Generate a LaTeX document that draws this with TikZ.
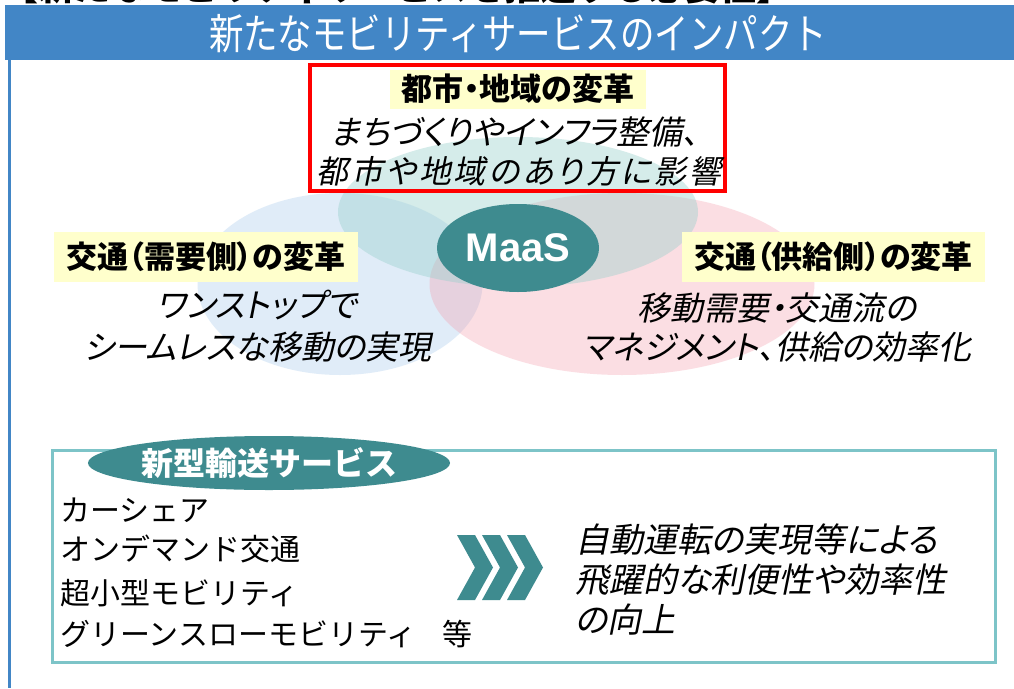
\documentclass[tikz,border=0pt]{standalone}
\usepackage{fontspec}
\usetikzlibrary{shapes.geometric}
\newfontfamily\jp{Noto Sans CJK JP}
\newfontfamily\jpp{Noto Sans CJK JP}[RawFeature=+palt]
\newfontfamily\jpit{Noto Sans CJK JP}[FakeSlant=0.2, RawFeature=+palt]
\newfontfamily\jpitwide{Noto Sans CJK JP}[FakeSlant=0.2, RawFeature=+palt, LetterSpace=9]
\newfontfamily\jptitle{Noto Sans CJK JP}[FakeStretch=0.82]
\newfontfamily\latinsans{Liberation Sans}
\definecolor{hdrblue}{RGB}{66,134,198}
\definecolor{maasteal}{RGB}{62,139,143}
\definecolor{boxteal}{RGB}{125,196,200}
\definecolor{lblyellow}{RGB}{255,255,204}
\definecolor{ctop}{RGB}{150,208,203}
\definecolor{cleft}{RGB}{160,198,235}
\definecolor{cright}{RGB}{245,155,170}
\begin{document}
\begin{tikzpicture}[x=1pt,y=-1pt,
  venn/.style={ellipse, inner sep=0pt, fill opacity=0.32},
  lbl/.style={fill=lblyellow, inner sep=0pt, font=\jpp\bfseries\fontsize{31}{34}\selectfont},
  itxt/.style={inner sep=0pt, font=\jpit\fontsize{33}{36}\selectfont},
  ltxt/.style={inner sep=0pt, anchor=west, font=\jp\fontsize{30}{34}\selectfont},
  rtxt/.style={inner sep=0pt, anchor=west, font=\jpit\fontsize{34}{38}\selectfont},
  chev/.style={fill=maasteal},
]
\useasboundingbox (0,0) rectangle (1014,688);
\fill[white] (0,0) rectangle (1014,688);
% cut-off line at top
\begin{scope}
\clip (0,0) rectangle (1014,5);
\node[anchor=base west, inner sep=0pt, font=\jp\bfseries\fontsize{36}{36}\selectfont] (cut) at (2,0) {【新たなモビリティサービスを推進する必要性】};
\end{scope}
% header band
\fill[hdrblue] (5,5) rectangle (1014,60);
\node[text=white, inner sep=0pt, font=\jptitle\fontsize{42}{42}\selectfont] (title) at (518,34) {新たなモビリティサービスのインパクト};
\draw[hdrblue, line width=3pt] (9,60) -- (9,688);
% venn ellipses
\node[venn, fill=cleft, minimum width=285pt, minimum height=182pt] (vleft) at (340,284) {};
\node[venn, fill=cright, minimum width=385pt, minimum height=182pt] (vright) at (622,284) {};
\node[venn, fill=ctop, fill opacity=0.4, minimum width=360pt, minimum height=150pt] (vtop) at (518,212) {};
% red box
\node[draw=red, line width=4pt, minimum width=415pt, minimum height=126pt, inner sep=0pt] (redbox) at (517.5,128) {};
\node[lbl, minimum width=256pt, minimum height=39pt] (toplbl) at (518,89) {都市・地域の変革};
\node[itxt] (top1) at (515,132) {まちづくりやインフラ整備、};
\node[itxt, font=\jpitwide\fontsize{32}{36}\selectfont] (top2) at (519,171) {都市や地域のあり方に影響};
% MaaS
\node[ellipse, fill=maasteal, minimum width=162pt, minimum height=88pt, inner sep=0pt, text=white, font=\latinsans\bfseries\fontsize{40}{40}\selectfont] (maas) at (518,248) {MaaS};
% left
\node[lbl, minimum width=304pt, minimum height=50pt] (leftlbl) at (206,257) {交通（需要側）の変革};
\node[itxt] (left1) at (257,305) {ワンストップで};
\node[itxt] (left2) at (258,347) {シームレスな移動の実現};
% right
\node[lbl, minimum width=303pt, minimum height=50pt] (rightlbl) at (833.5,257) {交通（供給側）の変革};
\node[itxt] (right1) at (777,308) {移動需要・交通流の};
\node[itxt] (right2) at (777,347) {マネジメント、供給の効率化};
% bottom box
\draw[boxteal, line width=3pt] (52,450) rectangle (995,662);
\node[ellipse, fill=maasteal, minimum width=348pt, minimum height=54pt, inner sep=0pt, text=white, font=\jp\bfseries\fontsize{32}{32}\selectfont] (shingata) at (269,463) {新型輸送サービス};
\node[ltxt] (l1) at (60,510) {カーシェア};
\node[ltxt] (l2) at (60,549) {オンデマンド交通};
\node[ltxt] (l3) at (60,593) {超小型モビリティ};
\node[ltxt] (l4) at (60,634) {グリーンスローモビリティ};
\node[inner sep=0pt, font=\jp\fontsize{30}{34}\selectfont] (tou) at (457,634) {等};
% chevrons
\foreach \cx in {457,482,507}{
  \fill[chev] (\cx,535) -- ++(18,0) -- ++(18,32.5) -- ++(-18,32.5) -- ++(-18,0) -- ++(18,-32.5) -- cycle;
}
\node[rtxt] (r1) at (575,540) {自動運転の実現等による};
\node[rtxt] (r2) at (575,580) {飛躍的な利便性や効率性};
\node[rtxt] (r3) at (575,620) {の向上};
\end{tikzpicture}
\end{document}
